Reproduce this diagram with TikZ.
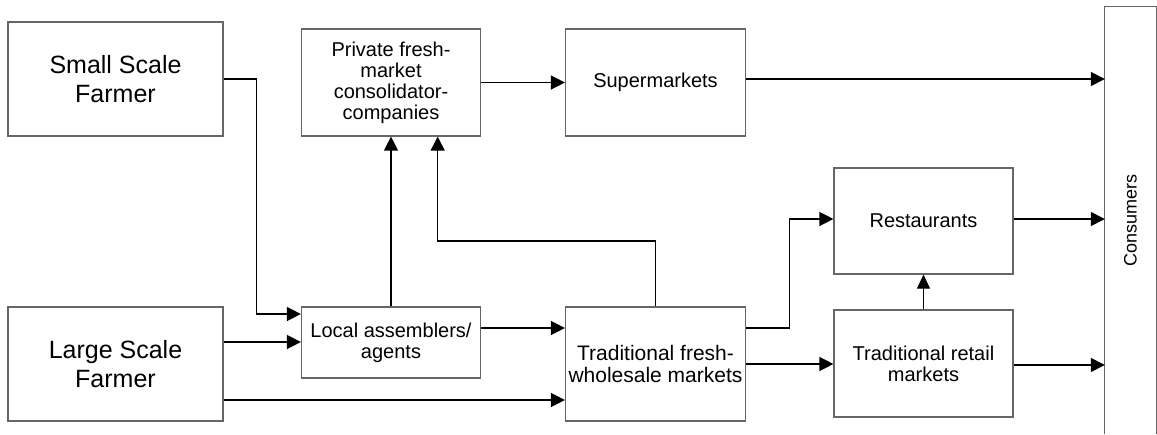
\documentclass[tikz,border=0pt]{standalone}
\usepackage{fontspec}
\setmainfont{Liberation Sans}
\usetikzlibrary{arrows.meta}

\begin{document}
\begin{tikzpicture}[x=1pt,y=-1pt,
  box/.style={draw=black!60,line width=1.2pt,rectangle,inner sep=0pt,align=center,text=black},
  farmer/.style={box,minimum width=215pt,minimum height=114pt,font=\fontsize{25}{29}\selectfont},
  mid/.style={box,minimum width=179pt,font=\fontsize{20}{21}\selectfont},
  arr/.style={draw=black,line width=1.4pt,-{Triangle[length=14pt,width=14pt]}},
  thinarr/.style={draw=black,line width=0.8pt,-{Triangle[length=14pt,width=13pt]}}
]
\useasboundingbox (0,0) rectangle (1157,434);

% producers
\node[farmer] (small) at (115.5,79) {Small Scale\\Farmer};
\node[farmer] (large) at (115.5,364) {Large Scale\\Farmer};

% intermediaries
\node[mid,minimum height=107pt] (priv) at (391,82.5) {Private fresh-\\market\\consolidator-\\companies};
\node[mid,minimum height=71pt] (local) at (391,342.5) {Local assemblers/\\agents};
\node[mid,minimum width=180pt,minimum height=107pt] (super) at (655.5,82.5) {Supermarkets};
\node[mid,minimum width=180pt,minimum height=114pt,font=\fontsize{21}{22}\selectfont] (whole) at (655.5,364) {Traditional fresh-\\wholesale markets};
\node[mid,minimum height=106pt] (rest) at (923.5,221) {Restaurants};
\node[mid,minimum height=107pt] (retail) at (923.5,363.5) {Traditional retail\\markets};

% consumers column, open at the bottom
\node[inner sep=0pt,minimum width=51pt,minimum height=427pt] (cons) at (1130.5,220.5) {};
\node[rotate=90,font=\fontsize{18}{20}\selectfont] (conslabel) at (cons.center) {Consumers};
\draw[draw=black!60,line width=1.2pt] (cons.south west) -- (cons.north west) -- (cons.north east) -- (cons.south east);

% flows from the farms
\draw[arr] (small.east) -- (256.4,79) -- (256.4,314) -- (local.west |- 0,314);
\draw[arr] (large.east |- 0,342) -- (local.west |- 0,342);
\draw[arr] (large.east |- 0,400) -- (whole.west |- 0,400);

% flows through the middle
\draw[arr] (local.east |- 0,328) -- (whole.west |- 0,328);
\draw[arr] (local.north) -- (priv.south);
\draw[arr] (whole.north) -- (655.5,241) -- (437.7,241) -- (priv.south -| 437.7,0);
\draw[arr] (priv.east) -- (super.west);
\draw[arr] (whole.east |- 0,328) -- (789.5,328) -- (789.5,219) -- (rest.west |- 0,219);
\draw[arr] (whole.east |- 0,364) -- (retail.west |- 0,364);
\draw[thinarr] (retail.north) -- (rest.south);

% flows to consumers
\draw[arr] (super.east |- 0,79) -- (cons.west |- 0,79);
\draw[arr] (rest.east |- 0,219) -- (cons.west |- 0,219);
\draw[arr] (retail.east |- 0,365) -- (cons.west |- 0,365);
\end{tikzpicture}
\end{document}
